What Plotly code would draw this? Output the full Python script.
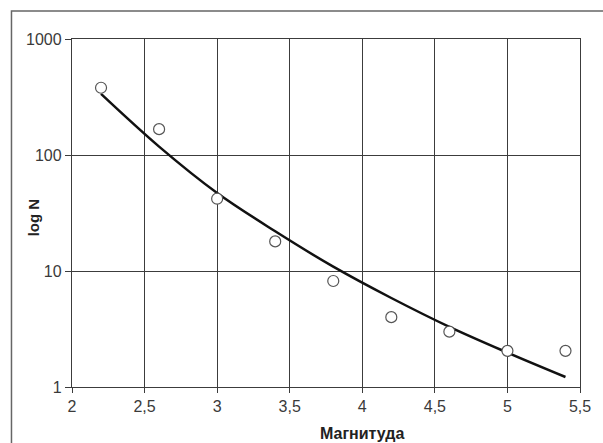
import plotly.graph_objects as go

# Observed data
magnitude = [2.2, 2.6, 3.0, 3.4, 3.8, 4.2, 4.6, 5.0, 5.4]
count_n = [380, 167, 42, 18, 8.2, 4.0, 3.0, 2.05, 2.05]

# Trend line
trend_x = [2.2, 2.6, 3.0, 3.4, 3.8, 4.2, 4.6, 5.0, 5.4]
trend_y = [336, 118, 47, 22, 10.9, 5.85, 3.3, 1.98, 1.22]

x_tickvals = [2, 2.5, 3, 3.5, 4, 4.5, 5, 5.5]
x_ticktext = ["2", "2,5", "3", "3,5", "4", "4,5", "5", "5,5"]
y_tickvals = [1, 10, 100, 1000]
y_ticktext = ["1", "10", "100", "1000"]

W, H = 603, 443
L, R, T, B = 72, 584, 39, 387

fig = go.Figure()
fig.add_trace(go.Scatter(
    x=trend_x, y=trend_y, mode="lines", line=dict(color="#111111", width=2.5, shape="spline"),
    showlegend=False, hoverinfo="skip"))
fig.add_trace(go.Scatter(
    x=magnitude, y=count_n, mode="markers",
    marker=dict(symbol="circle", size=11, color="white", line=dict(color="#555555", width=1.2)),
    showlegend=False))

font = dict(family="Liberation Sans, Arial, sans-serif", size=16, color="#3a3a3a")
pw, ph = R - L, B - T

fig.update_layout(
    width=W, height=H,
    margin=dict(l=L, r=W - R, t=T, b=H - B, pad=0),
    paper_bgcolor="white", plot_bgcolor="white",
    font=font,
    xaxis=dict(range=[2, 5.5], tickvals=x_tickvals, ticktext=x_ticktext,
               showgrid=True, gridcolor="#3c3c3c", gridwidth=1.4,
               showline=True, linecolor="#3c3c3c", linewidth=1.4, mirror=True,
               ticks="outside", ticklen=5, tickcolor="#3c3c3c", tickwidth=1.4,
               zeroline=False, tickfont=font),
    yaxis=dict(type="log", range=[0, 3], tickvals=y_tickvals, ticktext=y_ticktext,
               showgrid=True, gridcolor="#3c3c3c", gridwidth=1.4,
               showline=True, linecolor="#3c3c3c", linewidth=1.4, mirror=True,
               ticks="outside", ticklen=6, tickcolor="#3c3c3c", tickwidth=1.4,
               zeroline=False, tickfont=font),
    shapes=[dict(type="rect", xref="paper", yref="paper",
                 x0=(11 - L) / pw, x1=(W + 5 - L) / pw,
                 y0=(B - (H + 5)) / ph, y1=(B - 11) / ph,
                 line=dict(color="#666666", width=1.5), layer="below")],
    annotations=[
        dict(text="<b>Магнитуда</b>", xref="paper", yref="paper",
             x=(364 - L) / pw, y=(B - 433) / ph, showarrow=False,
             xanchor="center", yanchor="middle",
             font=dict(family="Liberation Sans, Arial, sans-serif", size=16, color="#222222")),
        dict(text="<b>log N</b>", xref="paper", yref="paper",
             x=(33 - L) / pw, y=(B - 217) / ph, showarrow=False, textangle=-90,
             xanchor="center", yanchor="middle",
             font=dict(family="Liberation Sans, Arial, sans-serif", size=15, color="#222222")),
    ],
)

fig.write_html("out.html", config={"displayModeBar": False},
               post_script="document.body.style.margin='0';document.body.style.overflow='hidden';")
